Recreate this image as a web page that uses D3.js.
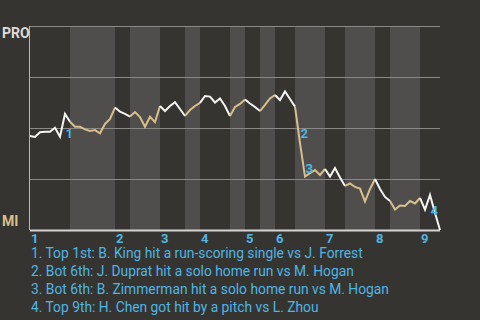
<!DOCTYPE html>
<html lang="en">
<head>
<meta charset="UTF-8">
<title>Win probability</title>
<script src="https://d3js.org/d3.v7.min.js"></script>
</head>
<style type="text/css">
body { margin:0; background:#363430; }
text { font-family: Roboto, "DejaVu Sans", sans-serif; }
.grid line { stroke:#8a8986; stroke-width:1px; shape-rendering:crispEdges; }
.grid path { display:none; }
.inning { font-size:13px; font-weight:bold; fill:#4fb6e6; }
.note { font-size:13px; font-weight:bold; fill:#4fb6e6; }
.legend { font-size:13.8px; fill:#4fb6e6; }
</style>
<body>
<div id="chart"></div>
<script>
// win probability of PRO (percent), one value per plate appearance
var proWinPct = [46.1,45.6,47.9,48.2,48.2,50.1,45.7,56.9,53.1,50.6,
                 50.6,49.3,48.5,49.0,47.4,52.0,54.4,60.0,58.0,56.9,
                 55.6,57.8,55.4,50.6,55.5,52.9,60.8,58.3,60.8,62.7,
                 59.3,55.9,58.8,60.8,62.3,65.7,65.4,62.5,64.5,60.8,
                 55.9,60.3,61.8,64.0,62.0,60.3,58.3,61.3,64.5,66.2,
                 63.7,67.9,64.2,60.5,42.6,26.2,27.9,29.4,27.0,29.9,
                 26.2,30.4,25.7,21.6,22.8,21.1,20.3,14.0,20.1,25.0,
                 20.1,16.2,14.2,10.0,12.0,11.8,14.2,13.0,15.7,10.0,
                 17.2,8.3,0];
// index where each half inning starts (last = end of game)
var halfBreaks = [0,8,17,20,26,31,34,40,43,46,49,53,59,63,69,72,78,82];
var innings = [1,2,3,4,5,6,7,8,9];
var yTicks = [0,25,50,75,100];
// annotated plays: index of the play's starting point
var noteIdx = [6,53,54,79];
var noteText = ["Top 1st: B. King hit a run-scoring single vs J. Forrest",
                "Bot 6th: J. Duprat hit a solo home run vs M. Hogan",
                "Bot 6th: B. Zimmerman hit a solo home run vs M. Hogan",
                "Top 9th: H. Chen got hit by a pitch vs L. Zhou"];
var teams = ["PRO","MI"];

var width = 480, height = 320;
var padding = {left:30, right:40, top:26, bottom:90};

var svg = d3.select("#chart").append("svg")
    .attr("width", width).attr("height", height)
    .style("display","block");

svg.append("rect").attr("width",width).attr("height",height).attr("fill","#363430");

var xScale = d3.scaleLinear()
    .domain([0, proWinPct.length - 1])
    .range([padding.left, width - padding.right]);
var yScale = d3.scaleLinear()
    .domain([0, 100])
    .range([height - padding.bottom, padding.top]);

// shaded bottom halves
var halves = d3.range(halfBreaks.length - 1).map(function(i){
    return {i:i, start:halfBreaks[i], end:halfBreaks[i+1]};
});
svg.selectAll("rect.band")
    .data(halves.filter(function(d){ return d.i % 2 == 1; }))
    .enter().append("rect")
    .attr("class","band")
    .attr("x", function(d){ return xScale(d.start); })
    .attr("width", function(d){ return xScale(d.end) - xScale(d.start); })
    .attr("y", yScale(100))
    .attr("height", yScale(0) - yScale(100))
    .attr("fill", "#4f4e4c");

// grid lines
svg.append("g")
    .attr("class","grid")
    .attr("transform","translate(" + padding.left + ",0)")
    .call(d3.axisLeft(yScale).tickValues(yTicks.slice(1)).tickSize(-(width - padding.left - padding.right)).tickFormat(""));

svg.append("line")
    .attr("x1", xScale(0)).attr("x2", xScale(proWinPct.length - 1))
    .attr("y1", yScale(0) + 0.5).attr("y2", yScale(0) + 0.5)
    .attr("stroke", "#d6d4d0").attr("stroke-width", 2);
svg.append("line")
    .attr("x1", xScale(0) - 0.5).attr("x2", xScale(0) - 0.5)
    .attr("y1", yScale(100)).attr("y2", yScale(0))
    .attr("stroke", "#b8b6b2").attr("stroke-width", 1);

// win probability line, coloured by half inning
var linePath = d3.line()
    .x(function(d){ return xScale(d); })
    .y(function(d){ return yScale(proWinPct[d]); });

svg.selectAll("path.line")
    .data(halves)
    .enter().append("path")
    .attr("class","line")
    .attr("d", function(d){ return linePath(d3.range(d.start, d.end + 1)); })
    .attr("fill","none")
    .attr("stroke-width", 2)
    .attr("stroke-linejoin","miter")
    .attr("stroke", function(d){ return d.i % 2 == 0 ? "#f4f4f2" : "#d8bf8c"; });

// note numbers next to the plays
svg.selectAll("text.note")
    .data(noteIdx)
    .enter().append("text")
    .attr("class","note")
    .attr("x", function(d){ return (xScale(d) + xScale(d + 1)) / 2 + 3; })
    .attr("y", function(d){ return (yScale(proWinPct[d]) + yScale(proWinPct[d + 1])) / 2 + 13; })
    .text(function(d,i){ return i + 1; });

// team labels
svg.append("text")
    .attr("x", 2).attr("y", yScale(100) + 12)
    .style("font-size","14px").style("font-weight","bold")
    .attr("fill","#dcdcda")
    .text(teams[0]);
svg.append("text")
    .attr("x", 2).attr("y", yScale(0) - 4)
    .style("font-size","14px").style("font-weight","bold")
    .attr("fill","#d8bf8c")
    .text(teams[1]);

// inning numbers
svg.selectAll("text.inning")
    .data(innings)
    .enter().append("text")
    .attr("class","inning")
    .attr("x", function(d){ return xScale(halfBreaks[(d - 1) * 2]) + 1; })
    .attr("y", yScale(0) + 13)
    .text(function(d){ return d; });

// legend of notes
svg.selectAll("text.legend")
    .data(noteText)
    .enter().append("text")
    .attr("class","legend")
    .attr("x", 31)
    .attr("y", function(d,i){ return yScale(0) + 28 + i * 18; })
    .text(function(d,i){ return (i + 1) + ". " + d; });
</script>
</body>
</html>
